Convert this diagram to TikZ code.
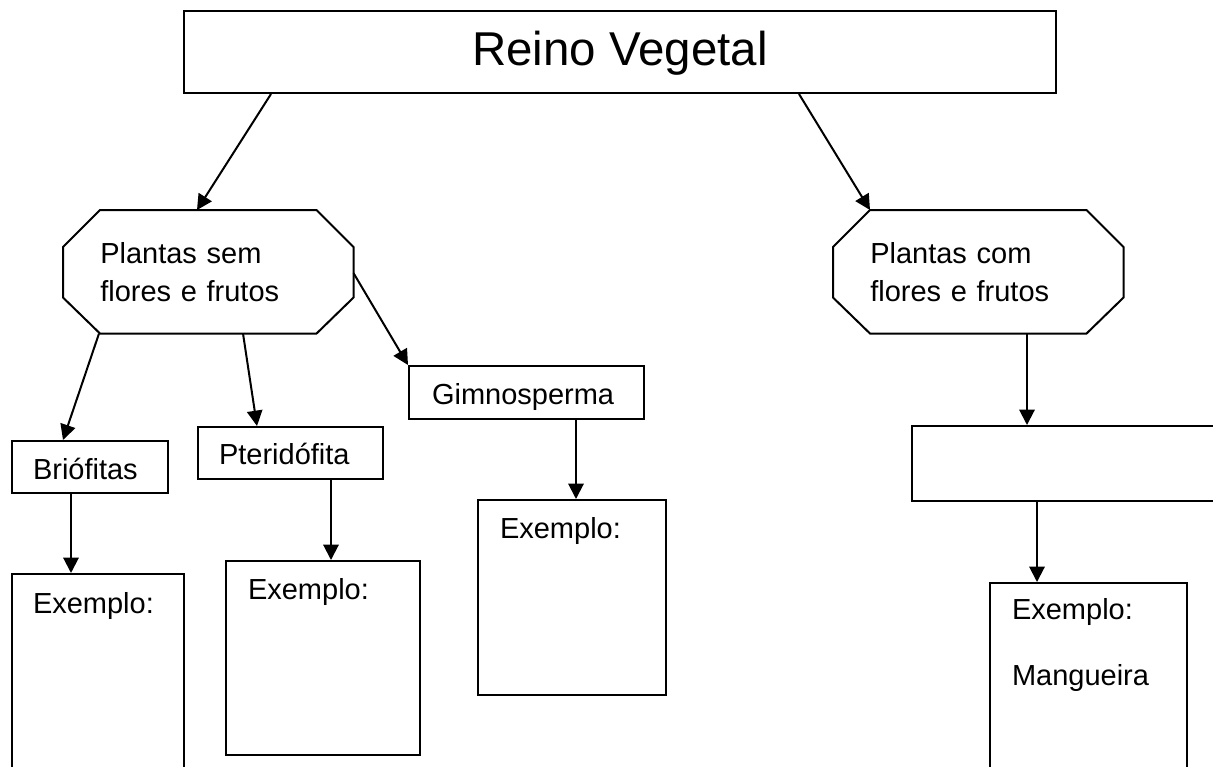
\documentclass[tikz,border=0pt]{standalone}
\usepackage{fontspec}
\setmainfont{Liberation Sans}
\usetikzlibrary{arrows.meta}
\tikzset{
  ln/.style={line width=1.5pt},
  arr/.style={ln, -{Triangle[length=11.5pt,width=11.5pt]}},
  txt/.style={font=\fontsize{21.75pt}{28.5pt}\selectfont, inner ysep=0pt, align=left, anchor=north west},
  boxed/.style={txt, draw, ln},
}
\begin{document}
\begin{tikzpicture}[x=0.75pt, y=-0.75pt]
\useasboundingbox (0,0) rectangle (1213,767);
\fill[white] (0,0) rectangle (1213,767);
\clip (0,0) rectangle (1213,767);

% nodes
\node[draw, ln, anchor=north west, minimum width=654pt, inner xsep=0pt, inner ysep=0pt,
      text height=41.25pt, text depth=20.25pt, font=\fontsize{35.6pt}{40pt}\selectfont]
      (top) at (183,10) {Reino Vegetal};

\node[txt, text width=162pt, inner xsep=27.75pt, text height=39.75pt, text depth=52.5pt]
      (octL) at (63,210) {Plantas sem\\flores e frutos};
\node[txt, text width=162pt, inner xsep=27.75pt, text height=39.75pt, text depth=52.5pt]
      (octR) at (833,210) {Plantas com\\flores e frutos};

\foreach \o in {octL,octR}
  \draw[ln] ([xshift=27.75pt]\o.north west) -- ([xshift=-27.75pt]\o.north east)
    -- ([yshift=-27.75pt]\o.north east) -- ([yshift=27pt]\o.south east)
    -- ([xshift=-27.75pt]\o.south east) -- ([xshift=27.75pt]\o.south west)
    -- ([yshift=27pt]\o.south west) -- ([yshift=-27.75pt]\o.north west) -- cycle;

\node[boxed, text width=85.5pt, inner xsep=15.75pt, text height=28.5pt, text depth=10.5pt]
      (bri) at (11,440) {Briófitas};
\node[boxed, text width=107.25pt, inner xsep=15.75pt, text height=27.75pt, text depth=11.25pt]
      (pte) at (197,426) {Pteridófita};
\node[boxed, text width=141.75pt, inner xsep=17.25pt, text height=28.5pt, text depth=11.25pt]
      (gim) at (408,365) {Gimnosperma};

\node[boxed, text width=97.5pt, inner xsep=15.75pt, text height=29.25pt, text depth=133.5pt]
      (exB) at (11,573) {Exemplo:};
\node[boxed, text width=112.5pt, inner xsep=16.5pt, text height=28.5pt, text depth=117pt]
      (exP) at (225,560) {Exemplo:};
\node[boxed, text width=108pt, inner xsep=16.5pt, text height=28.5pt, text depth=117.75pt]
      (exG) at (477,499) {Exemplo:};

\node[draw, ln, anchor=north west, minimum width=246.75pt, minimum height=56.25pt]
      (emp) at (911,425) {};
\node[boxed, text width=114.75pt, inner xsep=16.5pt, text height=27pt, text depth=129pt]
      (exM) at (989,582) {Exemplo:\\[21pt]Mangueira};

% connectors
\draw[arr] ([xshift=66pt]top.south west) -- ([xshift=100.5pt]octL.north west);
\draw[arr] ([xshift=462pt]top.south west) -- ([xshift=27.75pt]octR.north west);
\draw[arr] ([xshift=27pt]octL.south west) -- ([xshift=39pt]bri.north west);
\draw[arr] ([xshift=135pt]octL.south west) -- ([xshift=45pt]pte.north west);
\draw[arr] ([yshift=-1pt]octL.east) -- (gim.north west);
\draw[arr] ([xshift=45pt]bri.south west) -- ([xshift=45pt]exB.north west);
\draw[arr] ([xshift=100.5pt]pte.south west) -- ([xshift=79.5pt]exP.north west);
\draw[arr] ([xshift=126pt]gim.south west) -- ([xshift=74.25pt]exG.north west);
\draw[arr] ([xshift=145.5pt]octR.south west) -- ([xshift=87pt]emp.north west);
\draw[arr] ([xshift=94.5pt]emp.south west) -- ([xshift=36pt]exM.north west);
\end{tikzpicture}
\end{document}
